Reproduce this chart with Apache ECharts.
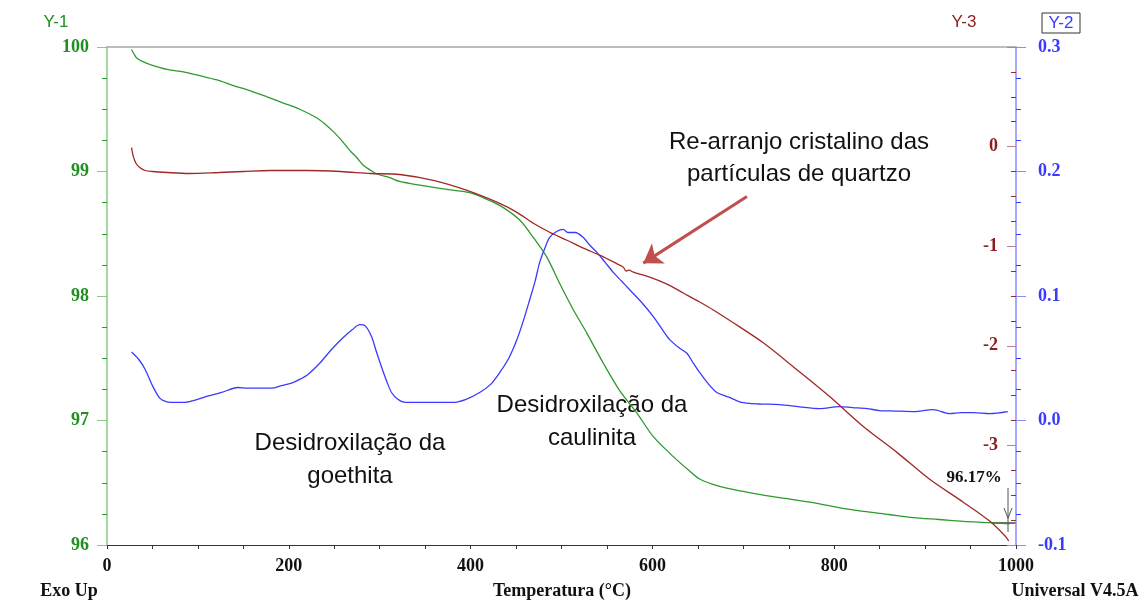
<!DOCTYPE html>
<html>
<head>
<meta charset="utf-8">
<title>TGA / DTG / DSC</title>
<script src="https://cdn.jsdelivr.net/npm/echarts@6/dist/echarts.min.js"></script>
<style>
  html, body { margin: 0; padding: 0; background: #fff; }
  #chart { width: 1146px; height: 601px; }
</style>
</head>
<body>
<div id="chart"></div>
<script>
// Temperature (°C) and mass (%) - TGA curve (Y-1)
const massaT = [27, 30, 33, 40, 47, 66, 84, 102, 121, 139, 157, 176, 194, 212, 231, 240, 249, 258, 267, 275, 282, 290, 297, 311, 322, 344, 370, 399, 420, 436, 454, 469, 484, 498, 513, 528, 546, 564, 583, 601, 623, 640, 652, 674, 700, 722, 750, 777, 805, 832, 860, 887, 915, 942, 970, 993];
const massaVals = [99.98, 99.94, 99.91, 99.88, 99.86, 99.82, 99.80, 99.77, 99.735, 99.69, 99.65, 99.60, 99.55, 99.50, 99.43, 99.38, 99.32, 99.25, 99.17, 99.11, 99.05, 99.01, 98.98, 98.95, 98.92, 98.89, 98.86, 98.83, 98.77, 98.71, 98.61, 98.47, 98.31, 98.10, 97.89, 97.70, 97.46, 97.24, 97.06, 96.87, 96.71, 96.60, 96.53, 96.47, 96.43, 96.40, 96.37, 96.34, 96.30, 96.27, 96.245, 96.22, 96.205, 96.19, 96.18, 96.17];

// Derivative of mass (%/min) - DTG curve (Y-2)
const derivT = [27, 35, 42, 50, 58, 66, 75, 85, 95, 108, 126, 144, 155, 168, 181, 192, 203, 212, 221, 234, 247, 259, 270, 278, 284, 291, 296, 302, 308, 313, 320, 328, 350, 381, 395, 410, 422, 432, 442, 451, 458, 465, 471, 476, 482, 487, 495, 502, 507, 515, 524, 531, 539, 548, 557, 566, 575, 588, 601, 610, 619, 630, 638, 645, 652, 662, 671, 685, 696, 707, 720, 740, 762, 784, 806, 820, 836, 850, 868, 887, 909, 927, 940, 953, 971, 991];
const derivVals = [0.055, 0.049, 0.041, 0.028, 0.018, 0.015, 0.0145, 0.0145, 0.016, 0.019, 0.0225, 0.0265, 0.026, 0.026, 0.026, 0.028, 0.030, 0.033, 0.037, 0.046, 0.057, 0.066, 0.073, 0.077, 0.076, 0.0675, 0.056, 0.043, 0.031, 0.0225, 0.017, 0.0145, 0.0145, 0.0145, 0.017, 0.0225, 0.029, 0.0385, 0.050, 0.065, 0.080, 0.097, 0.112, 0.127, 0.139, 0.147, 0.152, 0.1535, 0.151, 0.151, 0.147, 0.141, 0.135, 0.127, 0.119, 0.112, 0.105, 0.095, 0.0835, 0.074, 0.065, 0.058, 0.054, 0.046, 0.0385, 0.029, 0.0225, 0.0185, 0.015, 0.0137, 0.0132, 0.0128, 0.011, 0.0096, 0.0112, 0.0104, 0.0096, 0.008, 0.0076, 0.0072, 0.0088, 0.0056, 0.0064, 0.0064, 0.0056, 0.0072];

// Heat flow (W/g) - DSC curve (Y-3)
const heatT = [27, 29, 32, 36, 42, 50, 66, 90, 123, 150, 180, 220, 257, 290, 322, 359, 396, 432, 451, 469, 487, 506, 524, 542, 564, 568, 571, 574, 579, 597, 616, 634, 652, 667, 696, 722, 759, 795, 832, 869, 905, 942, 971, 988, 992];
const heatVals = [-0.01, -0.10, -0.17, -0.21, -0.24, -0.25, -0.26, -0.27, -0.26, -0.25, -0.24, -0.24, -0.25, -0.27, -0.28, -0.34, -0.44, -0.57, -0.66, -0.77, -0.86, -0.94, -1.02, -1.09, -1.19, -1.21, -1.25, -1.24, -1.26, -1.31, -1.38, -1.47, -1.56, -1.64, -1.81, -1.97, -2.24, -2.51, -2.81, -3.07, -3.34, -3.57, -3.76, -3.91, -3.96];

// Axis ranges and tick steps
const tempRange = [0, 1000, 200];
const massaRange = [96, 100, 1];
const derivRange = [-0.1, 0.3, 0.1];
const heatRange = [-4, 1, 1];

// Annotation texts
const notaQuartzo = ['Re-arranjo cristalino das', 'partículas de quartzo'];
const notaCaulinita = ['Desidroxilação da', 'caulinita'];
const notaGoethita = ['Desidroxilação da', 'goethita'];
const massaFinal = massaVals[massaVals.length - 1];

const GREEN = '#2e9a2e';
const GREEN_AXIS = '#86c886';
const GREEN_TXT = '#1f8f1f';
const BLUE = '#3a3aff';
const BLUE_AXIS = '#8a8aff';
const RED = '#a02828';
const RED_TXT = '#8b1d1d';
const SERIF = '"Liberation Serif", "Times New Roman", serif';
const SANS = '"Liberation Sans", Arial, sans-serif';

const zip = (xs, ys) => xs.map((x, i) => [x, ys[i]]);

const chart = echarts.init(document.getElementById('chart'), null, { renderer: 'canvas' });

function txt(x, y, text, opts) {
  return Object.assign({
    type: 'text', x: x, y: y,
    style: Object.assign({ text: text, fill: '#111', font: '24px ' + SANS, align: 'center', verticalAlign: 'middle' }, opts.style || {})
  }, opts.el || {});
}

const option = {
  animation: false,
  backgroundColor: '#fff',
  grid: { left: 107, right: 130, top: 47, bottom: 56 },
  xAxis: [
    {
      type: 'value', min: tempRange[0], max: tempRange[1], interval: tempRange[2],
      axisLine: { onZero: false, lineStyle: { color: '#333', width: 1 } },
      axisTick: { length: 4, lineStyle: { color: '#333' } },
      minorTick: { show: true, splitNumber: 4, length: 4, lineStyle: { color: '#333' } },
      splitLine: { show: false },
      axisLabel: { margin: 12, color: '#111', fontFamily: SERIF, fontWeight: 'bold', fontSize: 18,
        formatter: v => String(v) }
    },
    {
      type: 'value', position: 'top', min: tempRange[0], max: tempRange[1],
      axisLine: { show: true, onZero: false, lineStyle: { color: '#a8a8a8', width: 1.5 } },
      axisTick: { show: false }, axisLabel: { show: false }, splitLine: { show: false }
    }
  ],
  yAxis: [
    {
      type: 'value', position: 'left', min: massaRange[0], max: massaRange[1], interval: massaRange[2],
      axisLine: { show: true, onZero: false, lineStyle: { color: GREEN_AXIS, width: 1.5 } },
      axisTick: { length: 10, lineStyle: { color: GREEN_AXIS } },
      minorTick: { show: true, splitNumber: 4, length: 5, lineStyle: { color: GREEN } },
      splitLine: { show: false },
      axisLabel: { margin: 18, color: GREEN_TXT, fontFamily: SERIF, fontWeight: 'bold', fontSize: 18 }
    },
    {
      type: 'value', position: 'right', min: derivRange[0], max: derivRange[1], interval: derivRange[2],
      axisLine: { show: true, onZero: false, lineStyle: { color: BLUE_AXIS, width: 1.5 } },
      axisTick: { length: 10, lineStyle: { color: BLUE_AXIS } },
      minorTick: { show: true, splitNumber: 4, length: 5, lineStyle: { color: BLUE } },
      splitLine: { show: false },
      axisLabel: { margin: 22, color: BLUE, fontFamily: SERIF, fontWeight: 'bold', fontSize: 18,
        formatter: v => v.toFixed(1) }
    },
    {
      type: 'value', position: 'right', min: heatRange[0], max: heatRange[1], interval: heatRange[2],
      axisLine: { show: false, onZero: false },
      axisTick: { show: true, inside: true, length: 9, lineStyle: { color: '#c08080' } },
      minorTick: { show: true, splitNumber: 4, length: 5, lineStyle: { color: RED } },
      splitLine: { show: false },
      axisLabel: { inside: true, margin: 18, color: RED_TXT, fontFamily: SERIF, fontWeight: 'bold', fontSize: 18,
        showMinLabel: false, showMaxLabel: false }
    }
  ],
  series: [
    {
      name: 'Massa', type: 'line', xAxisIndex: 0, yAxisIndex: 0, data: zip(massaT, massaVals),
      showSymbol: false, smooth: 0.3, lineStyle: { color: GREEN, width: 1.3 }, silent: true
    },
    {
      name: 'Deriv. Massa', type: 'line', xAxisIndex: 0, yAxisIndex: 1, data: zip(derivT, derivVals),
      showSymbol: false, smooth: 0.3, lineStyle: { color: BLUE, width: 1.3 }, silent: true
    },
    {
      name: 'Heat Flow', type: 'line', xAxisIndex: 0, yAxisIndex: 2, data: zip(heatT, heatVals),
      showSymbol: false, smooth: 0.3, lineStyle: { color: RED, width: 1.3 }, silent: true,
      markLine: {
        silent: true, symbol: ['none', 'arrow'], symbolSize: 18,
        label: { show: false },
        lineStyle: { color: '#c0504d', width: 3, type: 'solid' },
        data: [[{ coord: [704, -0.5] }, { coord: [590, -1.17] }]]
      }
    }
  ],
  graphic: [
    // header labels
    txt(56, 22, 'Y-1', { style: { fill: GREEN_TXT, font: '17px ' + SANS } }),
    txt(964, 22, 'Y-3', { style: { fill: RED_TXT, font: '17px ' + SANS } }),
    { type: 'rect', shape: { x: 1042, y: 13, width: 38, height: 20 }, style: { fill: '#fff', stroke: '#333', lineWidth: 1 } },
    txt(1061, 23, 'Y-2', { style: { fill: BLUE, font: '17px ' + SANS } }),
    // axis titles
    txt(18, 290, 'Massa (%)', { style: { fill: GREEN_TXT, font: 'bold 17px ' + SERIF }, el: { rotation: Math.PI / 2, originX: 18, originY: 290 } }),
    txt(945, 296, 'Heat Flow (W/g)', { style: { fill: RED_TXT, font: 'bold 18px ' + SERIF }, el: { rotation: Math.PI / 2, originX: 945, originY: 296 } }),
    txt(1102, 296, 'Deriv. Massa (%/min)', { style: { fill: BLUE, font: 'bold 18px ' + SERIF }, el: { rotation: Math.PI / 2, originX: 1102, originY: 296 } }),
    // footer labels
    txt(69, 591, 'Exo Up', { style: { font: 'bold 18px ' + SERIF } }),
    txt(562, 591, 'Temperatura (°C)', { style: { font: 'bold 18px ' + SERIF } }),
    txt(1075, 591, 'Universal V4.5A', { style: { font: 'bold 18px ' + SERIF } }),
    // annotations
    txt(799, 142, notaQuartzo[0], {}),
    txt(799, 174, notaQuartzo[1], {}),
    txt(592, 405, notaCaulinita[0], {}),
    txt(592, 438, notaCaulinita[1], {}),
    txt(350, 443, notaGoethita[0], {}),
    txt(350, 476, notaGoethita[1], {}),
    // final mass marker
    txt(974, 478, massaFinal.toFixed(2) + '%', { style: { font: 'bold 17px ' + SERIF } }),
    { type: 'line', shape: { x1: 992, y1: 523, x2: 1016, y2: 523 }, style: { stroke: '#111', lineWidth: 1.2 } },
    { type: 'line', shape: { x1: 1008, y1: 488, x2: 1008, y2: 532 }, style: { stroke: '#555', lineWidth: 1 } },
    { type: 'polyline', shape: { points: [[1004, 508], [1008, 518], [1012, 508]] }, style: { stroke: '#555', fill: null, lineWidth: 1 } }
  ]
};

chart.setOption(option);
</script>
</body>
</html>
